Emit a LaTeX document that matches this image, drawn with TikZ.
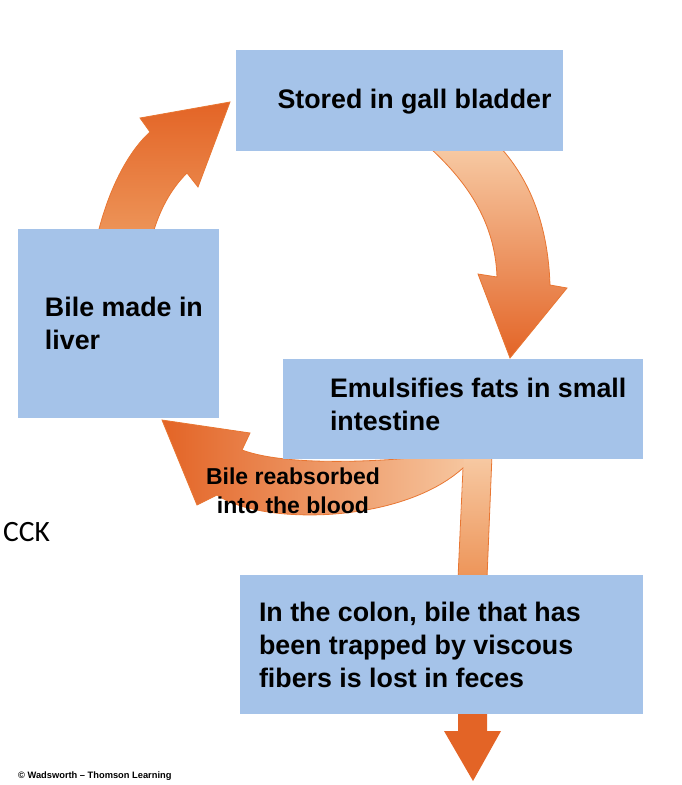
\documentclass[tikz,border=0pt]{standalone}
\usepackage{fontspec}
\setmainfont{Liberation Sans}
\newfontfamily\cckfont{Carlito}
\usetikzlibrary{positioning}

\definecolor{boxblue}{RGB}{165,195,233}
\definecolor{arrowdark}{RGB}{227,100,38}
\definecolor{arrowmid}{RGB}{237,148,88}
\definecolor{arrowlight}{RGB}{247,202,164}
\definecolor{arrowedge}{RGB}{232,118,50}

\begin{document}
\begin{tikzpicture}[
    x=1pt,y=-1pt,
    stagebox/.style={fill=boxblue,inner sep=0pt},
    stagetext/.style={font=\bfseries\fontsize{26.8}{33}\selectfont,align=left,inner sep=0pt,anchor=west},
    pathtext/.style={font=\bfseries\fontsize{23}{29}\selectfont,align=center,inner sep=0pt},
    arrowline/.style={draw=arrowedge,line width=0.8pt}]
  \useasboundingbox (0,0) rectangle (681,785);

  % block arrows, behind the boxes
  \shade[arrowline,top color=arrowdark,bottom color=arrowmid]
    (98,233) .. controls (110,185) and (130,150) .. (150,132) -- (140,118) -- (230,102)
    -- (198,187) -- (187,173) .. controls (170,190) and (160,210) .. (153,233) -- cycle;
  \shade[arrowline,top color=arrowlight,bottom color=arrowdark]
    (429,147) .. controls (465,180) and (495,220) .. (497,277) -- (478,274) -- (510,358)
    -- (567,288) -- (550,285) .. controls (548,225) and (530,180) .. (500,147) -- cycle;
  \shade[left color=arrowdark,right color=arrowlight]
    (463,468) .. controls (400,525) and (260,525) .. (217,495) -- (197,505) -- (162,420)
    -- (250,433) -- (242,450) .. controls (290,468) and (400,462) .. (480,450) -- (480,470) -- cycle;
  \shade[top color=arrowlight,bottom color=arrowmid]
    (464,455) -- (492,455) -- (487,578) -- (458,578) -- cycle;
  \draw[arrowline]
    (458,578) -- (463,468) .. controls (400,525) and (260,525) .. (217,495) -- (197,505) -- (162,420)
    -- (250,433) -- (242,450) .. controls (290,468) and (400,462) .. (480,450)
    (492,455) -- (487,578);
  \fill[arrowdark] (458,710) -- (487,710) -- (487,731) -- (501,731) -- (473,781) -- (444,731) -- (458,731) -- cycle;

  \node[stagebox,minimum width=327pt,minimum height=101pt] (gall) at (399,100) {};
  \node[stagebox,minimum width=201pt,minimum height=189pt] (liver) at (118.5,323.5) {};
  \node[stagebox,minimum width=360pt,minimum height=100pt] (emul) at (463,409) {};
  \node[stagebox,minimum width=403pt,minimum height=139pt] (colon) at (441.5,644.5) {};

  \node[stagetext,xshift=42pt,yshift=-2pt] (galltext) at (gall.west) {Stored in gall bladder};
  \node[stagetext,xshift=27pt] (livertext) at (liver.west) {Bile made in\\liver};
  \node[stagetext,xshift=47pt,yshift=5pt] (emultext) at (emul.west) {Emulsifies fats in small\\intestine};
  \node[stagetext,xshift=19pt] (colontext) at (colon.west) {In the colon, bile that has\\been trapped by viscous\\fibers is lost in feces};

  \node[pathtext] (reabs) at (293,491) {Bile reabsorbed\\into the blood};

  \node[font=\cckfont\fontsize{29.5}{32}\selectfont,inner sep=0pt,anchor=base west] (cck) at (3,541) {CCK};
  \node[font=\bfseries\fontsize{9.3}{11}\selectfont,inner sep=0pt,anchor=base west] (credit) at (18,778) {© Wadsworth – Thomson Learning};
\end{tikzpicture}
\end{document}
